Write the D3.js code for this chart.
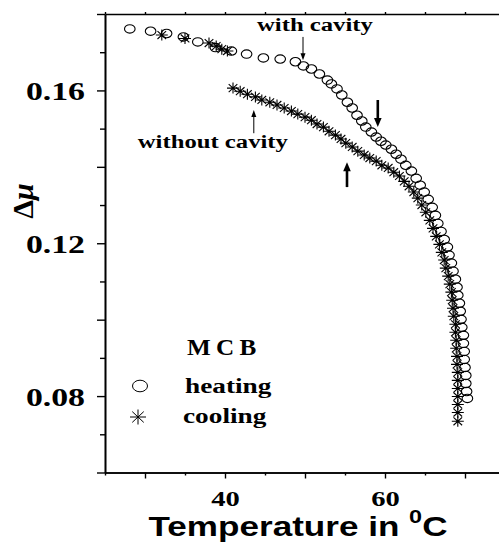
<!DOCTYPE html>
<html>
<head>
<meta charset="utf-8">
<script src="https://cdn.jsdelivr.net/npm/d3@7"></script>
<style>
body { margin: 0; background: #fff; }
</style>
</head>
<body>
<div id="chart"></div>
<script>
// Heating run (open circles)
const heatT = [28.1,30.7,32.7,34.8,36.6,38.8,40.8,42.7,44.8,46.9,
  48.8,49.8,50.8,51.8,52.8,53.3,54.0,54.6,55.3,55.9,
  56.5,57.1,57.6,58.3,58.9,59.5,60.1,60.8,61.4,62.0,
  62.6,63.3,63.9,64.4,64.9,65.4,65.9,66.3,66.6,67.0,
  67.4,67.8,68.0,68.3,68.5,68.8,69.0,69.1,69.3,69.4,
  69.5,69.6,69.8,69.8,69.9,69.9,70.0,70.1,70.1,70.2,70.3];
const heatMu = [0.1761,0.1755,0.1749,0.1740,0.1727,0.1712,0.1703,0.1695,0.1685,0.1682,
  0.1675,0.1664,0.1656,0.1643,0.1627,0.1617,0.1604,0.1588,0.1569,0.1554,
  0.1535,0.1520,0.1504,0.1491,0.1478,0.1467,0.1457,0.1446,0.1433,0.1420,
  0.1404,0.1389,0.1370,0.1352,0.1334,0.1315,0.1294,0.1273,0.1252,0.1231,
  0.1210,0.1190,0.1169,0.1148,0.1127,0.1106,0.1085,0.1064,0.1043,0.1022,
  0.1001,0.0980,0.0959,0.0938,0.0917,0.0896,0.0875,0.0854,0.0833,0.0812,0.0794];

// Cooling run (asterisks)
const coolT = [32.1,35.0,38.0,38.9,39.6,40.3,
  41.0,41.9,42.8,43.8,44.6,45.6,46.5,47.4,48.3,49.1,
  50.0,50.8,51.5,52.3,53.0,53.8,54.5,55.1,55.9,56.6,
  57.4,58.1,58.9,59.6,60.4,61.1,61.8,62.4,63.0,63.6,
  64.1,64.6,65.1,65.6,66.0,66.4,66.8,67.1,67.4,67.6,
  67.9,68.1,68.3,68.4,68.5,68.6,68.8,68.8,68.9,68.9,
  69.0,69.0,69.1,69.1,69.1,69.1,69.1,69.1,69.1];
const coolMu = [0.1745,0.1736,0.1724,0.1716,0.1708,0.1703,
  0.1606,0.1598,0.1590,0.1583,0.1575,0.1569,0.1562,0.1554,0.1546,0.1538,
  0.1530,0.1522,0.1512,0.1504,0.1493,0.1483,0.1473,0.1462,0.1452,0.1441,
  0.1431,0.1423,0.1415,0.1404,0.1397,0.1386,0.1376,0.1362,0.1349,0.1334,
  0.1318,0.1300,0.1281,0.1260,0.1239,0.1218,0.1197,0.1176,0.1156,0.1135,
  0.1114,0.1093,0.1072,0.1051,0.1030,0.1009,0.0988,0.0967,0.0946,0.0925,
  0.0904,0.0883,0.0862,0.0841,0.0820,0.0799,0.0778,0.0757,0.0734];

// Ticks
const xMajor = [30, 40, 50, 60, 70];
const xMinor = [25, 35, 45, 55, 65, 75];
const xLabels = [40, 60];
const yMajor = [0.06, 0.08, 0.10, 0.12, 0.14, 0.16, 0.18];
const yMinor = [0.07, 0.09, 0.11, 0.13, 0.15, 0.17];
const yLabels = ["0.08", "0.12", "0.16"];

// Annotations: [text, T, mu]
const noteText = [["with cavity", 44.0, 0.1755], ["without cavity", 29.1, 0.1449]];
// arrows: [T, mu start, mu at head]
const thinArrows = [[49.75, 0.1740, 0.1679], [43.6, 0.1488, 0.1549]];
const thickArrows = [[59.1, 0.1575, 0.1504], [55.25, 0.1347, 0.1412]];

let width = 499, height = 547;
const stretch = 1.3;
const serif = "'Liberation Serif', 'Times New Roman', serif";
const sans = "'Liberation Sans', Arial, sans-serif";

let svg = d3.select("#chart").append("svg")
    .attr("width", width)
    .attr("height", height);

const xScale = d3.scaleLinear().domain([25, 75]).range([105, 505]);
const yScale = d3.scaleLinear().domain([0.06, 0.18]).range([472.5, 14]);

function styleAxis(g) {
    g.select(".domain").attr("stroke", "#000").attr("stroke-width", 1.6);
    g.selectAll(".tick line").attr("stroke", "#000").attr("stroke-width", 1.4);
}

// bottom axis
svg.append("g")
    .attr("transform", `translate(0,${yScale(0.06)})`)
    .call(d3.axisBottom(xScale).tickValues(xMinor).tickSize(3).tickSizeOuter(0).tickFormat(""))
    .call(styleAxis);
let xg = svg.append("g")
    .attr("transform", `translate(0,${yScale(0.06)})`)
    .call(d3.axisBottom(xScale).tickValues(xMajor).tickSize(6).tickSizeOuter(0)
        .tickFormat(d => xLabels.includes(d) ? d : ""))
    .call(styleAxis);
xg.selectAll(".tick text")
    .attr("y", 34).attr("dy", null)
    .attr("transform", `scale(${stretch},1)`)
    .attr("fill", "#000")
    .style("font-family", serif).style("font-weight", "bold").style("font-size", "22px");

// top axis
svg.append("g")
    .attr("transform", `translate(0,${yScale(0.18)})`)
    .call(d3.axisTop(xScale).tickValues(xMajor.concat(xMinor)).tickSize(2).tickSizeOuter(0).tickFormat(""))
    .call(styleAxis);

// left axis
svg.append("g")
    .attr("transform", `translate(${xScale(25)},0)`)
    .call(d3.axisLeft(yScale).tickValues(yMinor).tickSize(5).tickSizeOuter(0).tickFormat(""))
    .call(styleAxis);
let yg = svg.append("g")
    .attr("transform", `translate(${xScale(25)},0)`)
    .call(d3.axisLeft(yScale).tickValues(yMajor).tickSize(8).tickSizeOuter(0)
        .tickFormat(d => yLabels.includes(d.toFixed(2)) ? d.toFixed(2) : ""))
    .call(styleAxis);
yg.selectAll(".tick text")
    .attr("x", -20 / stretch).attr("y", 9).attr("dy", null)
    .attr("transform", `scale(${stretch},1)`)
    .attr("fill", "#000")
    .style("font-family", serif).style("font-weight", "bold").style("font-size", "26px");

// right axis (falls just outside the window)
svg.append("line")
    .attr("x1", xScale(75)).attr("x2", xScale(75))
    .attr("y1", yScale(0.18)).attr("y2", yScale(0.06))
    .attr("stroke", "#000").attr("stroke-width", 1.6);

// axis titles
let xt = svg.append("text")
    .attr("transform", `translate(298,536) scale(${stretch},1)`)
    .attr("text-anchor", "middle")
    .style("font-family", sans).style("font-weight", "bold").style("font-size", "27px");
xt.append("tspan").text("Temperature in ");
xt.append("tspan").attr("dy", -13).style("font-size", "18px").text("0");
xt.append("tspan").attr("dy", 13).text("C");

let yt = svg.append("text")
    .attr("transform", "translate(33,201) rotate(-90)")
    .attr("text-anchor", "middle")
    .style("font-family", serif).style("font-weight", "bold").style("font-size", "30px");
yt.append("tspan").text("Δ");
yt.append("tspan").style("font-style", "italic").text("μ");

// markers
function asterisk(a, b) {
    const c = 0.72;
    return `M${-a},0L${a},0M0,${-b}L0,${b}` +
        `M${-a * c},${-b * c}L${a * c},${b * c}M${-a * c},${b * c}L${a * c},${-b * c}`;
}

svg.append("g").selectAll("ellipse")
    .data(d3.range(heatT.length))
    .join("ellipse")
    .attr("cx", i => xScale(heatT[i]))
    .attr("cy", i => yScale(heatMu[i]))
    .attr("rx", 5.3).attr("ry", 4.2)
    .attr("fill", "none").attr("stroke", "#000").attr("stroke-width", 1.1);

svg.append("g").selectAll("path")
    .data(d3.range(coolT.length))
    .join("path")
    .attr("transform", i => `translate(${xScale(coolT[i])},${yScale(coolMu[i])})`)
    .attr("d", asterisk(6, 5.5))
    .attr("fill", "none").attr("stroke", "#000").attr("stroke-width", 1.1);

// annotations
noteText.forEach(n => {
    svg.append("text")
        .attr("transform", `translate(${xScale(n[1])},${yScale(n[2])}) scale(${stretch},1)`)
        .style("font-family", serif).style("font-weight", "bold").style("font-size", "19px")
        .text(n[0]);
});

function arrow(a, lw, headLen, headW) {
    const x = xScale(a[0]), y1 = yScale(a[1]), y2 = yScale(a[2]);
    const dir = y2 > y1 ? 1 : -1;
    svg.append("line")
        .attr("x1", x).attr("x2", x)
        .attr("y1", y1).attr("y2", y2 - dir * headLen * 0.8)
        .attr("stroke", "#000").attr("stroke-width", lw);
    svg.append("path")
        .attr("d", `M${x},${y2}L${x - headW},${y2 - dir * headLen}L${x + headW},${y2 - dir * headLen}Z`)
        .attr("fill", "#000");
}
thinArrows.forEach(a => arrow(a, 1, 7, 2.5));
thickArrows.forEach(a => arrow(a, 2.6, 9, 3.8));

// legend
svg.append("text")
    .attr("transform", `translate(187,355) scale(1.05,1)`)
    .attr("letter-spacing", 5)
    .style("font-family", serif).style("font-weight", "bold").style("font-size", "24px")
    .text("MCB");
svg.append("ellipse")
    .attr("cx", 140).attr("cy", 386).attr("rx", 7.5).attr("ry", 5.8)
    .attr("fill", "none").attr("stroke", "#000").attr("stroke-width", 1);
svg.append("text")
    .attr("transform", `translate(185,393) scale(${stretch},1)`)
    .style("font-family", serif).style("font-weight", "bold").style("font-size", "21px")
    .text("heating");
svg.append("path")
    .attr("transform", "translate(138,417)")
    .attr("d", asterisk(8, 7.5))
    .attr("fill", "none").attr("stroke", "#000").attr("stroke-width", 1);
svg.append("text")
    .attr("transform", `translate(183,423) scale(${stretch},1)`)
    .style("font-family", serif).style("font-weight", "bold").style("font-size", "21px")
    .text("cooling");
</script>
</body>
</html>
